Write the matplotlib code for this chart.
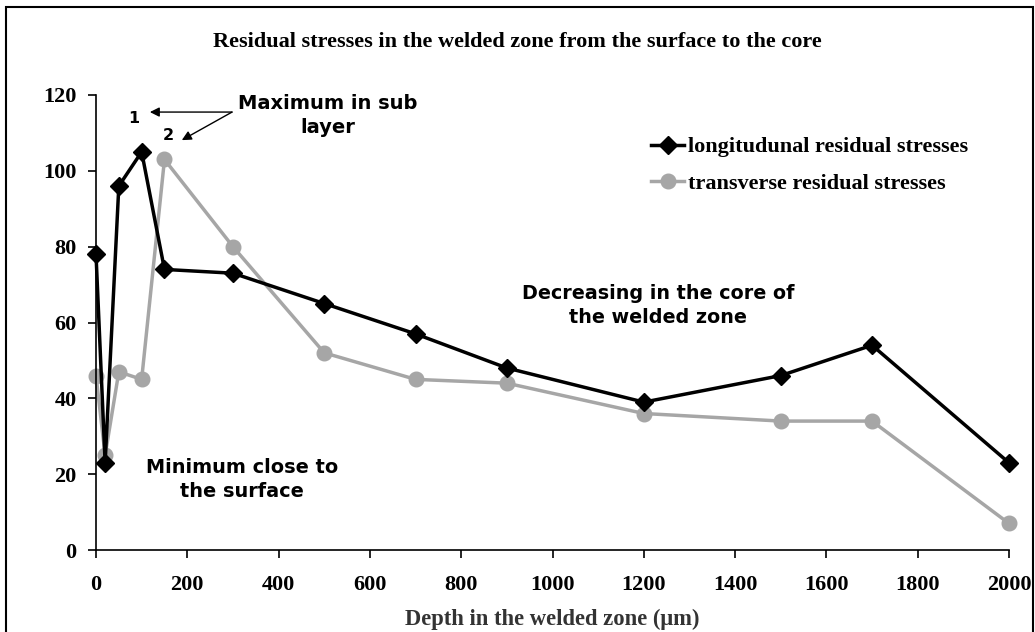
import matplotlib
matplotlib.use("Agg")
import matplotlib.pyplot as plt
from matplotlib.patches import Rectangle

depth = [0, 20, 50, 100, 150, 300, 500, 700, 900, 1200, 1500, 1700, 2000]
longitudinal = [78, 23, 96, 105, 74, 73, 65, 57, 48, 39, 46, 54, 23]
transverse = [46, 25, 47, 45, 103, 80, 52, 45, 44, 36, 34, 34, 7]
x_ticks = list(range(0, 2001, 200))
y_ticks = list(range(0, 121, 20))

serif = ["Liberation Serif", "DejaVu Serif"]
sans = ["DejaVu Sans"]

fig = plt.figure(figsize=(10.35, 6.32), dpi=100)
ax = fig.add_axes([96/1035, 1-550/632, (1009-96)/1035, (550-95)/632])

ax.plot(depth, transverse, color="#A6A6A6", lw=2.5, marker="o", ms=10.5,
        label="transverse residual stresses", zorder=2, clip_on=False)
ax.plot(depth, longitudinal, color="black", lw=2.5, marker="D", ms=9.5,
        label="longitudunal residual stresses", zorder=3, clip_on=False)

ax.set_xlim(0, 2000)
ax.set_ylim(0, 120)
ax.set_xticks(x_ticks)
ax.set_yticks(y_ticks)
for s in ["top", "right"]:
    ax.spines[s].set_visible(False)
for s in ["left", "bottom"]:
    ax.spines[s].set_linewidth(1.2)
ax.tick_params(direction="out", length=6, width=1.2)
ax.tick_params(axis="x", pad=12)
ax.tick_params(axis="y", pad=8)
for lab in ax.get_xticklabels() + ax.get_yticklabels():
    lab.set_fontfamily(serif)
    lab.set_fontweight("bold")
    lab.set_fontsize(16)

ax.set_xlabel("Depth in the welded zone (\u03bcm)", fontfamily=serif,
              fontweight="bold", fontsize=16.3, color="#333333", labelpad=10)

fig.text(0.5, 1-42/632, "Residual stresses in the welded zone from the surface to the core",
         ha="center", va="center", fontfamily=serif, fontweight="bold", fontsize=16)

h, l = ax.get_legend_handles_labels()
leg = ax.legend(h[::-1], l[::-1], loc="upper left",
                bbox_to_anchor=((642-96)/913, (550-128)/455),
                frameon=False, prop={"family": serif, "weight": "bold", "size": 16},
                handlelength=1.5, handletextpad=0.15, labelspacing=0.72, borderaxespad=0)

# annotations
ax.text(83, 113.7, "1", ha="center", va="center", fontfamily=sans, fontweight="bold", fontsize=11.5)
ax.text(158, 109.3, "2", ha="center", va="center", fontfamily=sans, fontweight="bold", fontsize=11.5)
arrowprops = dict(arrowstyle="-|>", color="black", lw=1, mutation_scale=14, shrinkA=0, shrinkB=0)
ax.annotate("", xy=(118, 115.5), xytext=(298, 115.5), arrowprops=arrowprops)
ax.annotate("", xy=(188, 108.1), xytext=(298, 115.5), arrowprops=arrowprops)
ax.text(508, 114.6, "Maximum in sub\nlayer", ha="center", va="center", fontfamily=sans,
        fontweight="bold", fontsize=14, linespacing=1.3)
ax.text(1231, 64.5, "Decreasing in the core of\nthe welded zone", ha="center", va="center",
        fontfamily=sans, fontweight="bold", fontsize=13.8, linespacing=1.3)
ax.text(320, 18.6, "Minimum close to\nthe surface", ha="center", va="center",
        fontfamily=sans, fontweight="bold", fontsize=13.9, linespacing=1.3)

fig.patches.append(Rectangle((6/1035, -0.05), (1033-6)/1035, 1-7/632+0.05,
                             transform=fig.transFigure, fill=False, edgecolor="black",
                             lw=1.5, zorder=0))

fig.savefig("out.png", dpi=100)
